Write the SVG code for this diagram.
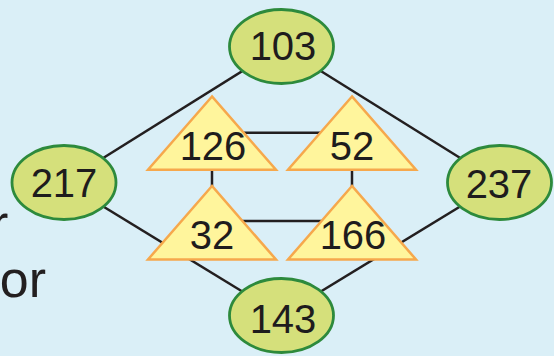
<svg xmlns="http://www.w3.org/2000/svg" width="554" height="356" viewBox="0 0 554 356">
<style>
.bg{fill:#daeff7}
.edge{stroke:#231f20;stroke-width:2.5;fill:none}
.ell{fill:#d5e07b;stroke:#2d8a3c;stroke-width:2.8}
.tri{fill:#fff59c;stroke:#f6a84c;stroke-width:2.5;stroke-linejoin:miter}
.num{font-family:"Liberation Sans",Arial,sans-serif;font-size:40px;fill:#1e1c1d;text-anchor:middle}
.side{font-family:"Liberation Sans",Arial,sans-serif;font-size:52px;fill:#231f20}
</style>
<rect class="bg" x="0" y="0" width="554" height="356"/>
<text class="side" x="-9" y="241">r</text>
<text class="side" x="46" y="297" text-anchor="end">oor</text>
<g id="connectors">
<line class="edge" x1="281.5" y1="46.5" x2="64" y2="182.5"/>
<line class="edge" x1="281.5" y1="46.5" x2="499.5" y2="182.5"/>
<line class="edge" x1="64" y1="182.5" x2="281.5" y2="315.5"/>
<line class="edge" x1="499.5" y1="182.5" x2="281.5" y2="315.5"/>
<line class="edge" x1="212" y1="132.7" x2="352" y2="132.7"/>
<line class="edge" x1="212" y1="221" x2="352" y2="221"/>
<line class="edge" x1="212" y1="165" x2="212" y2="190"/>
<line class="edge" x1="352" y1="165" x2="352" y2="190"/>
</g>
<g id="t126"><polygon class="tri" points="212,96.5 148,169.8 276,169.8"/><text class="num" x="213" y="160">126</text></g>
<g id="t52"><polygon class="tri" points="352,96.5 288,169.8 416,169.8"/><text class="num" x="352" y="160">52</text></g>
<g id="t32"><polygon class="tri" points="212,186 148,259.5 276,259.5"/><text class="num" x="212" y="249">32</text></g>
<g id="t166"><polygon class="tri" points="352,186 288,259.5 416,259.5"/><text class="num" x="353" y="249">166</text></g>
<g id="n103"><ellipse class="ell" cx="281.5" cy="46.5" rx="52" ry="37"/><text class="num" x="283" y="60">103</text></g>
<g id="n217"><ellipse class="ell" cx="64" cy="182.5" rx="52" ry="37"/><text class="num" x="64" y="197">217</text></g>
<g id="n237"><ellipse class="ell" cx="499.5" cy="182.5" rx="52" ry="37"/><text class="num" x="499" y="198">237</text></g>
<g id="n143"><ellipse class="ell" cx="281.5" cy="315.5" rx="52" ry="37"/><text class="num" x="283" y="333">143</text></g>
</svg>
